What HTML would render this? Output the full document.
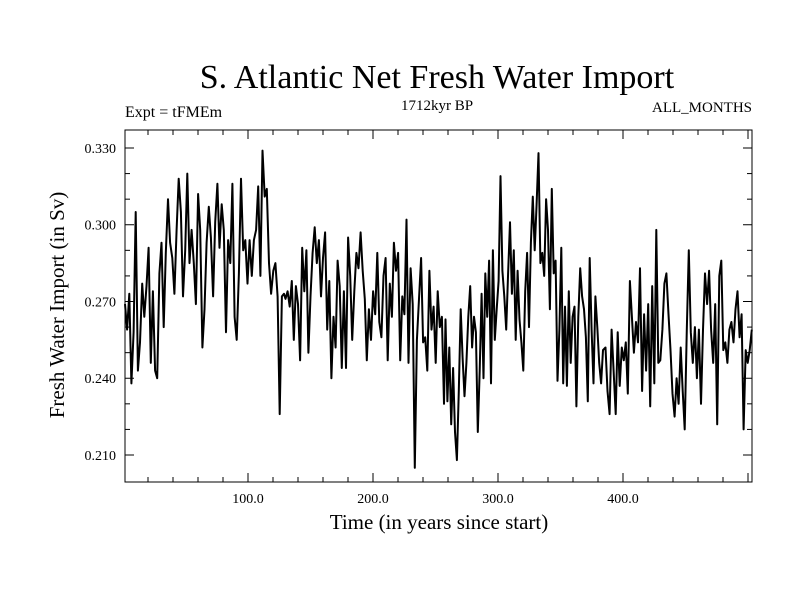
<!DOCTYPE html>
<html><head><meta charset="utf-8"><style>
body{margin:0;background:#fff;}
svg text{font-family:"Liberation Serif",serif;fill:#000;}
</style></head><body>
<svg id="chart" width="800" height="600" xmlns="http://www.w3.org/2000/svg">
<rect width="800" height="600" fill="#fff"/>
<text x="437" y="88" font-size="34" text-anchor="middle">S. Atlantic Net Fresh Water Import</text>
<text x="125" y="117" font-size="16">Expt = tFMEm</text>
<text x="437" y="110" font-size="15" text-anchor="middle">1712kyr BP</text>
<text x="752" y="112" font-size="15" text-anchor="end">ALL_MONTHS</text>
<text transform="translate(64,305) rotate(-90)" font-size="21" text-anchor="middle">Fresh Water Import (in Sv)</text>
<text x="439" y="529" font-size="21" text-anchor="middle">Time (in years since start)</text>
<g id="axes"></g>
<path id="series" fill="none" stroke="#000" stroke-width="2" stroke-linejoin="round"/>
<rect x="125" y="130" width="627" height="352" fill="none" stroke="#000" stroke-width="1"/>
</svg>
<script>
const xTickValues=[100,200,300,400];
const xTickLabels=["100.0","200.0","300.0","400.0"];
const yTickValues=[0.21,0.24,0.27,0.30,0.33];
const yTickLabels=["0.210","0.240","0.270","0.300","0.330"];
const segmentYears=[[1.6,128.8],[130,256.8],[258,384],[386,503]];
const values1=[0.269,0.259,0.273,0.238,0.258,0.305,0.243,0.254,0.277,0.264,0.276,0.291,0.246,0.274,0.243,0.240,0.281,0.293,0.260,0.289,0.310,0.293,0.287,0.273,0.298,0.318,0.305,0.272,0.290,0.320,0.285,0.298,0.285,0.269,0.312,0.298,0.252,0.267,0.293,0.307,0.295,0.272,0.301,0.316,0.291,0.308,0.298,0.258,0.294,0.285,0.316,0.264,0.255,0.281,0.318,0.290,0.294,0.277,0.294,0.280,0.294,0.298,0.315,0.280,0.329,0.311,0.314,0.285,0.273,0.282,0.285,0.272,0.226,0.272,0.273];
const values2=[0.271,0.274,0.268,0.278,0.255,0.276,0.269,0.247,0.291,0.274,0.290,0.250,0.272,0.289,0.299,0.285,0.294,0.272,0.287,0.297,0.259,0.278,0.240,0.264,0.252,0.286,0.276,0.244,0.274,0.244,0.295,0.280,0.255,0.274,0.289,0.283,0.297,0.282,0.271,0.247,0.267,0.255,0.274,0.265,0.289,0.262,0.256,0.280,0.287,0.247,0.277,0.264,0.293,0.282,0.289,0.247,0.272,0.265,0.302,0.246,0.283,0.269,0.205,0.255,0.271,0.287,0.254,0.256,0.243,0.282,0.259,0.268,0.246,0.274,0.260,0.264,0.230];
const values3=[0.263,0.231,0.252,0.222,0.244,0.219,0.208,0.235,0.267,0.248,0.233,0.246,0.264,0.276,0.252,0.264,0.258,0.219,0.243,0.273,0.240,0.281,0.264,0.286,0.238,0.290,0.255,0.267,0.278,0.319,0.282,0.272,0.259,0.281,0.301,0.273,0.290,0.255,0.282,0.263,0.254,0.243,0.274,0.289,0.260,0.293,0.311,0.290,0.308,0.328,0.285,0.289,0.280,0.310,0.298,0.267,0.314,0.281,0.286,0.239,0.259,0.291,0.238,0.268,0.237,0.274,0.246,0.264,0.268,0.229,0.264,0.283,0.272,0.267,0.256,0.231,0.287,0.259,0.238,0.272,0.260,0.246,0.238,0.251];
const values4=[0.252,0.235,0.226,0.259,0.243,0.226,0.258,0.237,0.252,0.247,0.254,0.234,0.278,0.264,0.250,0.262,0.254,0.283,0.235,0.265,0.243,0.269,0.229,0.276,0.238,0.298,0.246,0.247,0.259,0.277,0.281,0.265,0.251,0.234,0.225,0.240,0.230,0.252,0.235,0.220,0.259,0.290,0.258,0.246,0.260,0.240,0.259,0.230,0.259,0.281,0.269,0.282,0.259,0.246,0.269,0.222,0.280,0.286,0.251,0.254,0.246,0.259,0.262,0.254,0.267,0.274,0.256,0.265,0.220,0.251,0.246,0.251,0.259];
const L=125,R=752,T=130,B=482;
function xs(v){return 123+1.25*v;}
function ys(v){return 148+(0.330-v)*2558.33;}
const ns="http://www.w3.org/2000/svg";
const ax=document.getElementById('axes');
function line(x1,y1,x2,y2,name){const l=document.createElementNS(ns,'line');
l.setAttribute('x1',x1);l.setAttribute('y1',y1);l.setAttribute('x2',x2);l.setAttribute('y2',y2);
l.setAttribute('stroke','#000');l.setAttribute('stroke-width','1');


ax.appendChild(l);}
function text(x,y,s,anchor,name){const t=document.createElementNS(ns,'text');
t.setAttribute('x',x);t.setAttribute('y',y);t.setAttribute('font-size','14');t.setAttribute('text-anchor',anchor);t.textContent=s;


ax.appendChild(t);}
for(let v=20;v<=500;v+=20){const x=xs(v);const len=(v%100===0)?9:5;line(x,B,x,B-len,'x-tick');line(x,T,x,T+len,'x-tick-top');}
for(let v=0.21;v<=0.3351;v+=0.01){const y=ys(v);const maj=yTickValues.some(t=>Math.abs(t-v)<1e-6);const len=maj?9:5;line(L,y,L+len,y,'y-tick');line(R,y,R-len,y,'y-tick-right');}
xTickValues.forEach((v,i)=>text(xs(v),503,xTickLabels[i],'middle','x-tick-label'));
yTickValues.forEach((v,i)=>text(116,ys(v)+5,yTickLabels[i],'end','y-tick-label'));
let d='';let first=true;
[values1,values2,values3,values4].forEach((vals,s)=>{const a=segmentYears[s][0],b=segmentYears[s][1];const n=vals.length;
vals.forEach((v,i)=>{const yr=a+(b-a)*i/(n-1);const x=Math.min(R,Math.max(L,xs(yr)));d+=(first?'M':'L')+x.toFixed(1)+','+ys(v).toFixed(1);first=false;});});
document.getElementById('series').setAttribute('d',d);
</script>
</body></html>
